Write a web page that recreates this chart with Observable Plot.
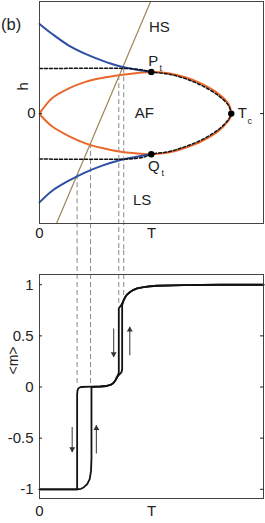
<!DOCTYPE html>
<html><head><meta charset="utf-8">
<script src="https://cdn.jsdelivr.net/npm/d3@7"></script>
<script src="https://cdn.jsdelivr.net/npm/@observablehq/plot@0.6"></script>
<style>
html,body{margin:0;padding:0;background:#fff;}
#chart svg{display:block;}
</style></head><body><div id="chart"></div>
<script>
// ---------- data (T normalised 0..1, h normalised) ----------
const tTicks = [0, 0.5];
const tTickLabels = ["0", "T"];

// orange AF boundary
const orangeT     = [0, 0.012, 0.057, 0.131, 0.205, 0.280, 0.354, 0.428, 0.499, 0.576, 0.651, 0.725, 0.799, 0.844, 0.853, 0.856];
const orangeUpper = [0, 0.035, 0.140, 0.225, 0.283, 0.318, 0.342, 0.360, 0.372, 0.360, 0.324, 0.265, 0.176, 0.086, 0.040, 0];
const orangeLower = [0, -0.030, -0.115, -0.200, -0.265, -0.307, -0.337, -0.354, -0.362, -0.348, -0.305, -0.245, -0.155, -0.060, -0.030, 0];

// blue HS / LS boundaries
const blueT     = [0, 0.057, 0.131, 0.205, 0.280, 0.354, 0.428, 0.499];
const blueUpper = [0.80, 0.71, 0.607, 0.533, 0.473, 0.425, 0.393, 0.372];
const blueLower = [-0.792, -0.688, -0.598, -0.524, -0.464, -0.418, -0.387, -0.362];

// black dashed first-order lines
const dashCurveT     = [0, 0.40, 0.44, 0.47, 0.499, 0.576, 0.651, 0.725, 0.799, 0.844, 0.856];
const dashCurveUpper = [0.402, 0.402, 0.395, 0.385, 0.372, 0.352, 0.312, 0.250, 0.160, 0.072, 0];
const dashCurveLower = [-0.405, -0.405, -0.397, -0.386, -0.362, -0.340, -0.294, -0.233, -0.142, -0.052, 0];

// tan sweep line
const sweepT = [0.076, 0.496];
const sweepH = [-0.98, 1.0];

// special points
const pointNames = ["P", "Q", "T"];
const pointT = [0.499, 0.499, 0.856];
const pointH = [0.372, -0.362, 0];

// gray dashed verticals
const jumpT = [0.168, 0.228, 0.354, 0.376];
const jumpTopH = [-0.546, -0.267, 0.340, 0.400];
const jumpEndM = [0.02, 0.01, 0.80, 0.86];

// magnetisation branches
const downT = [0, 0.168, 0.168, 0.170, 0.175, 0.185, 0.232, 0.272, 0.300, 0.317, 0.330, 0.339, 0.349, 0.354, 0.354, 0.365, 0.376, 0.383, 0.391, 0.406, 0.420, 0.436, 0.465, 0.495, 0.525, 0.643, 0.807, 1.0];
const downM = [-1, -1, -0.07, -0.03, -0.01, 0.0, 0.003, 0.005, 0.010, 0.020, 0.040, 0.066, 0.110, 0.140, 0.770, 0.800, 0.850, 0.880, 0.905, 0.932, 0.950, 0.965, 0.977, 0.985, 0.990, 0.997, 1.0, 1.0];
const upT = [0, 0.168, 0.185, 0.197, 0.213, 0.224, 0.230, 0.232, 0.232, 0.272, 0.300, 0.317, 0.330, 0.339, 0.349, 0.358, 0.365, 0.369, 0.369, 0.376, 0.383, 0.391, 0.406, 0.420, 0.436, 0.465, 0.495, 0.525, 0.643, 0.807, 1.0];
const upM = [-1, -1, -0.995, -0.982, -0.950, -0.900, -0.820, -0.700, 0.0, 0.005, 0.010, 0.020, 0.040, 0.066, 0.105, 0.125, 0.140, 0.170, 0.800, 0.850, 0.880, 0.905, 0.932, 0.950, 0.965, 0.977, 0.985, 0.990, 0.997, 1.0, 1.0];

// arrows
const arrowT = [0.146, 0.254, 0.331, 0.403];
const arrowFrom = [-0.39, -0.65, 0.573, 0.31];
const arrowTo = [-0.635, -0.375, 0.294, 0.588];

const mTicks = [-1, -0.5, 0, 0.5, 1];

// ---------- helpers ----------
const zip = (xs, ys) => xs.map((x, i) => ({x, y: ys[i]}));
const W = 265;
const font = {fontFamily: "'Liberation Sans', Arial, sans-serif", fontSize: "15px", background: "white", color: "#222"};
const BLUE = "#2d4fa3", ORANGE = "#e9692d", TAN = "#9c8758", GRAY = "#8a8a8a", FRAME = "#444";

const orangeLoop = zip(orangeT, orangeUpper).concat(zip(orangeT, orangeLower).reverse());
const arrows = arrowT.map((t, i) => ({t, from: arrowFrom[i], to: arrowTo[i], up: arrowTo[i] > arrowFrom[i]}));

// ---------- top panel ----------
const topPanel = Plot.plot({
  width: W, height: 250,
  marginTop: 1, marginBottom: 27, marginLeft: 39, marginRight: 2,
  x: {domain: [0, 1]},
  y: {domain: [-0.98, 1.0]},
  style: font,
  marks: [
    Plot.ruleX(jumpT, {x: d => d, y1: (d, i) => jumpTopH[i], y2: -0.98, insetBottom: -27, stroke: GRAY, strokeWidth: 1, strokeDasharray: "5,3"}),
    Plot.line(zip(sweepT, sweepH), {x: "x", y: "y", stroke: TAN, strokeWidth: 1.2}),
    Plot.line(orangeLoop, {x: "x", y: "y", stroke: ORANGE, strokeWidth: 2, curve: "catmull-rom"}),
    Plot.line(zip(blueT, blueUpper), {x: "x", y: "y", stroke: BLUE, strokeWidth: 2, curve: "catmull-rom"}),
    Plot.line(zip(blueT, blueLower), {x: "x", y: "y", stroke: BLUE, strokeWidth: 2, curve: "catmull-rom"}),
    Plot.line(zip(dashCurveT, dashCurveUpper), {x: "x", y: "y", stroke: "#111", strokeWidth: 1.5, strokeDasharray: "3,2", curve: "catmull-rom"}),
    Plot.line(zip(dashCurveT, dashCurveLower), {x: "x", y: "y", stroke: "#111", strokeWidth: 1.5, strokeDasharray: "3,2", curve: "catmull-rom"}),
    Plot.dot(zip(pointT, pointH), {x: "x", y: "y", r: 3.2, fill: "black", stroke: null}),
    Plot.frame({stroke: FRAME}),
    Plot.axisX({ticks: tTicks, tickFormat: d => tTickLabels[tTicks.indexOf(d)], tickSize: 0, tickPadding: 4, label: null, fontSize: 15}),
    Plot.axisY({ticks: [0], tickFormat: () => "0", tickSize: -3, tickPadding: 7, label: null, fontSize: 15}),
    Plot.axisY({anchor: "right", ticks: [0], tickFormat: () => "", tickSize: -4, label: null}),
    // phase labels
    Plot.text(["HS"], {x: 0.535, y: 0.77, text: d => d, fontSize: 15}),
    Plot.text(["AF"], {x: 0.468, y: 0, text: d => d, fontSize: 15}),
    Plot.text(["LS"], {x: 0.458, y: -0.776, text: d => d, fontSize: 15}),
    // point labels with subscripts
    Plot.text([0], {x: pointT[0], y: pointH[0], text: () => pointNames[0], dx: 2, dy: -11, fontSize: 15}),
    Plot.text([0], {x: pointT[0], y: pointH[0], text: () => "t", dx: 9.5, dy: -4, fontSize: 9}),
    Plot.text([1], {x: pointT[1], y: pointH[1], text: () => pointNames[1], dx: 2.5, dy: 12, fontSize: 15}),
    Plot.text([1], {x: pointT[1], y: pointH[1], text: () => "t", dx: 11.5, dy: 19, fontSize: 9}),
    Plot.text([2], {x: pointT[2], y: pointH[2], text: () => pointNames[2], dx: 11, dy: 0, fontSize: 15}),
    Plot.text([2], {x: pointT[2], y: pointH[2], text: () => "c", dx: 18.5, dy: 7, fontSize: 9}),
    Plot.text(["(b)"], {frameAnchor: "top-left", dx: -38.5, dy: 17, textAnchor: "start", text: d => d, fontSize: 16.5}),
    Plot.text(["h"], {frameAnchor: "left", dx: -16, dy: -22, rotate: -90, text: d => d, fontSize: 15})
  ]
});

// ---------- bottom panel ----------
const bottomPanel = Plot.plot({
  width: W, height: 273,
  marginTop: 24, marginBottom: 25, marginLeft: 39, marginRight: 2,
  x: {domain: [0, 1]},
  y: {domain: [-1.09, 1.1]},
  style: font,
  marks: [
    Plot.ruleX(jumpT, {x: d => d, y1: 1.1, y2: (d, i) => jumpEndM[i], insetTop: -24, stroke: GRAY, strokeWidth: 1, strokeDasharray: "5,3"}),
    Plot.line(zip(downT, downM), {x: "x", y: "y", stroke: "#111", strokeWidth: 1.8}),
    Plot.line(zip(upT, upM), {x: "x", y: "y", stroke: "#111", strokeWidth: 1.8}),
    Plot.link(arrows, {x1: "t", x2: "t", y1: "from", y2: "to", stroke: "#555", strokeWidth: 1.2}),
    Plot.dot(arrows.filter(d => d.up), {x: "t", y: "to", symbol: "triangle", r: 2.2, fill: "#333", stroke: null, dy: 3}),
    Plot.dot(arrows.filter(d => !d.up), {x: "t", y: "to", symbol: "triangle", rotate: 180, r: 2.2, fill: "#333", stroke: null, dy: -3}),
    Plot.frame({stroke: FRAME}),
    Plot.axisX({ticks: tTicks, tickFormat: d => tTickLabels[tTicks.indexOf(d)], tickSize: 0, tickPadding: 7, label: null, fontSize: 15}),
    Plot.axisY({ticks: mTicks, tickFormat: d => String(d), tickSize: -3, tickPadding: 9, label: null, fontSize: 15}),
    Plot.axisY({anchor: "right", ticks: mTicks, tickFormat: () => "", tickSize: -4, label: null}),
    Plot.text(["<m>"], {frameAnchor: "left", dx: -26, dy: -12, rotate: -90, text: d => d, fontSize: 14})
  ]
});

document.getElementById("chart").append(topPanel, bottomPanel);
</script></body></html>
